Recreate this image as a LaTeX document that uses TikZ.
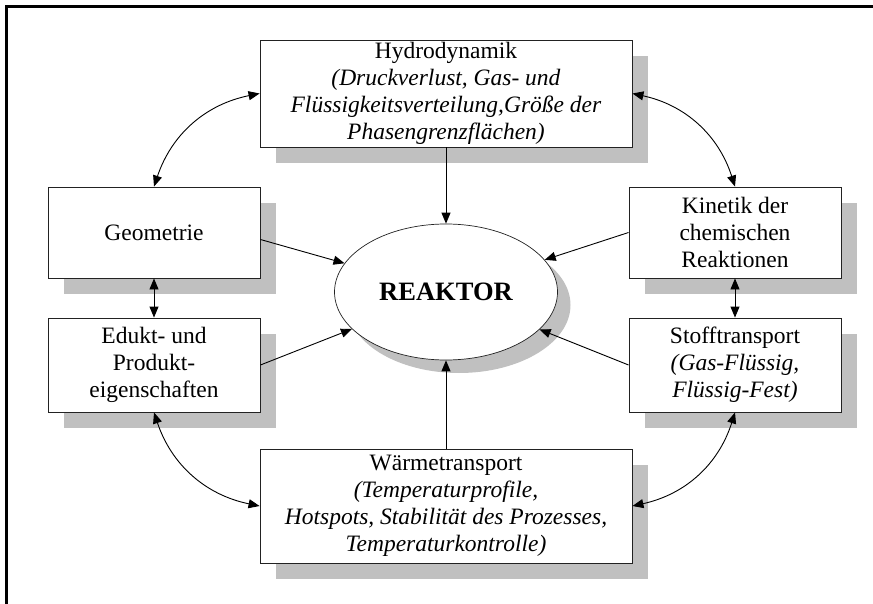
\documentclass[tikz,border=0pt]{standalone}
\usepackage{fontspec}
\setmainfont{Liberation Serif}
\usetikzlibrary{arrows.meta,shadows,shapes.geometric}
\definecolor{shadowgray}{HTML}{C0C0C0}
\definecolor{boxline}{HTML}{222222}
\begin{document}
\begin{tikzpicture}[x=1pt,y=-1pt,
  box/.style={draw=boxline, line width=0.9pt, fill=white, inner sep=0pt, align=center,
    font=\fontsize{23.5}{27}\selectfont,
    drop shadow={shadow xshift=16pt, shadow yshift=-16pt, fill=shadowgray, opacity=1}},
  oval/.style={ellipse, draw=boxline, line width=0.7pt, fill=white, inner sep=0pt,
    minimum width=223pt, minimum height=136pt, font=\fontsize{26.5}{30}\selectfont\bfseries,
    drop shadow={shadow xshift=13pt, shadow yshift=-13pt, fill=shadowgray, opacity=1}},
  tip/.tip={Triangle[length=11pt,width=9pt]},
  conn/.style={line width=0.9pt, -tip},
  dbl/.style={line width=0.9pt, tip-tip},
  frame/.style={line width=2.4pt}
]
\useasboundingbox (0,0) rectangle (873,604);
\draw[frame] (6.5,604) -- (6.5,6.5) -- (873,6.5);

\node[box, minimum width=372pt, minimum height=107pt] (hydro) at (446,93.5)
  {Hydrodynamik\\\textit{(Druckverlust, Gas- und}\\\textit{Flüssigkeitsverteilung,Größe der}\\\textit{Phasengrenzflächen)}};
\node[box, minimum width=212pt, minimum height=91pt] (geo) at (154,232.5) {Geometrie};
\node[box, minimum width=212pt, minimum height=94pt] (edukt) at (154,365) {Edukt- und\\Produkt-\\eigenschaften};
\node[box, minimum width=212pt, minimum height=91pt] (kin) at (735,232.5) {Kinetik der\\chemischen\\Reaktionen};
\node[box, minimum width=212pt, minimum height=94pt] (stoff) at (735,365)
  {Stofftransport\\\textit{(Gas-Flüssig,}\\\textit{Flüssig-Fest)}};
\node[box, minimum width=372pt, minimum height=114pt] (waerme) at (446,506)
  {Wärmetransport\\\textit{(Temperaturprofile,}\\\textit{Hotspots, Stabilität des Prozesses,}\\\textit{Temperaturkontrolle)}};
\node[oval] (reaktor) at (446,292) {\raisebox{-4pt}{REAKTOR}};

\draw[conn] (hydro.south) -- (reaktor.north);
\draw[conn] (waerme.north) -- (reaktor.south);
\draw[conn] ([yshift=-7pt]geo.east) -- (reaktor);
\draw[conn] (edukt.east) -- (reaktor);
\draw[conn] (kin.west) -- (reaktor);
\draw[conn] (stoff.west) -- (reaktor);

\draw[dbl] (geo.south) -- (edukt.north);
\draw[dbl] (kin.south) -- (stoff.north);

\draw[dbl] (geo.north) to[bend left=30] (hydro.west);
\draw[dbl] (hydro.east) to[bend left=30] (kin.north);
\draw[dbl] (edukt.south) to[bend right=30] (waerme.west);
\draw[dbl] (waerme.east) to[bend right=30] (stoff.south);
\end{tikzpicture}
\end{document}
